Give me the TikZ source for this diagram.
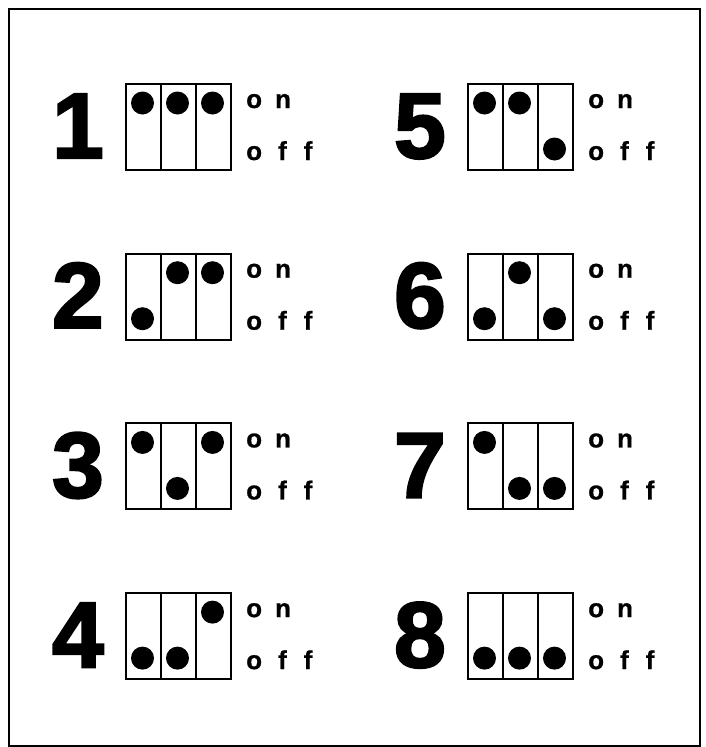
\documentclass[tikz,border=0pt]{standalone}
\usepackage{fontspec}
\setmainfont{Liberation Sans}
\newfontfamily\digitfont[BoldFeatures={FakeBold=2.5}]{Liberation Sans}
\newfontfamily\lblfont[BoldFeatures={FakeBold=0.8}]{Liberation Sans}
\usetikzlibrary{calc}
\begin{document}
\begin{tikzpicture}[x=1pt,y=-1pt,
  digit/.style={font=\digitfont\bfseries\fontsize{93}{93}\selectfont, inner sep=0pt, anchor=base east},
  lbl/.style={font=\lblfont\bfseries\fontsize{26}{26}\selectfont, inner sep=0pt, anchor=base west},
  switchbox/.style={draw, line width=2pt, minimum width=105pt, minimum height=86pt, inner sep=0pt, anchor=north west},
  divider/.style={line width=2pt},
  swdot/.style={circle, fill=black, minimum size=23pt, inner sep=0pt}]
\useasboundingbox (0,0) rectangle (705,747);
\node[draw, line width=1.5pt, minimum width=691pt, minimum height=737pt, inner sep=0pt, anchor=north west] (frame) at (8,8) {};
\foreach \num/\col/\row/\sa/\sb/\sc in {1/0/0/1/1/1, 2/0/1/0/1/1, 3/0/2/1/0/1, 4/0/3/0/0/1, 5/1/0/1/1/0, 6/1/1/0/1/0, 7/1/2/1/0/0, 8/1/3/0/0/0} {
  \pgfmathsetmacro\bx{125+342*\col}
  \pgfmathsetmacro\by{83+169.7*\row}
  \node[switchbox] (box\num) at (\bx,\by) {};
  \draw[divider] ($(box\num.north west)!1/3!(box\num.north east)$) -- ($(box\num.south west)!1/3!(box\num.south east)$);
  \draw[divider] ($(box\num.north west)!2/3!(box\num.north east)$) -- ($(box\num.south west)!2/3!(box\num.south east)$);
  \node[digit] (num\num) at (\bx-21,\by+75) {\num};
  \node[lbl] (on\num) at (\bx+121,\by+25) {o\kern13pt n};
  \node[lbl] (off\num) at (\bx+121,\by+77) {o\kern16pt f\kern17pt f};
  \foreach \k/\s in {1/\sa, 2/\sb, 3/\sc} {
    \pgfmathsetmacro\dx{\bx+17.5+35*(\k-1)}
    \pgfmathsetmacro\dy{\by+66-46*\s}
    \node[swdot] (dot\num-\k) at (\dx,\dy) {};
  }
}
\end{tikzpicture}
\end{document}
